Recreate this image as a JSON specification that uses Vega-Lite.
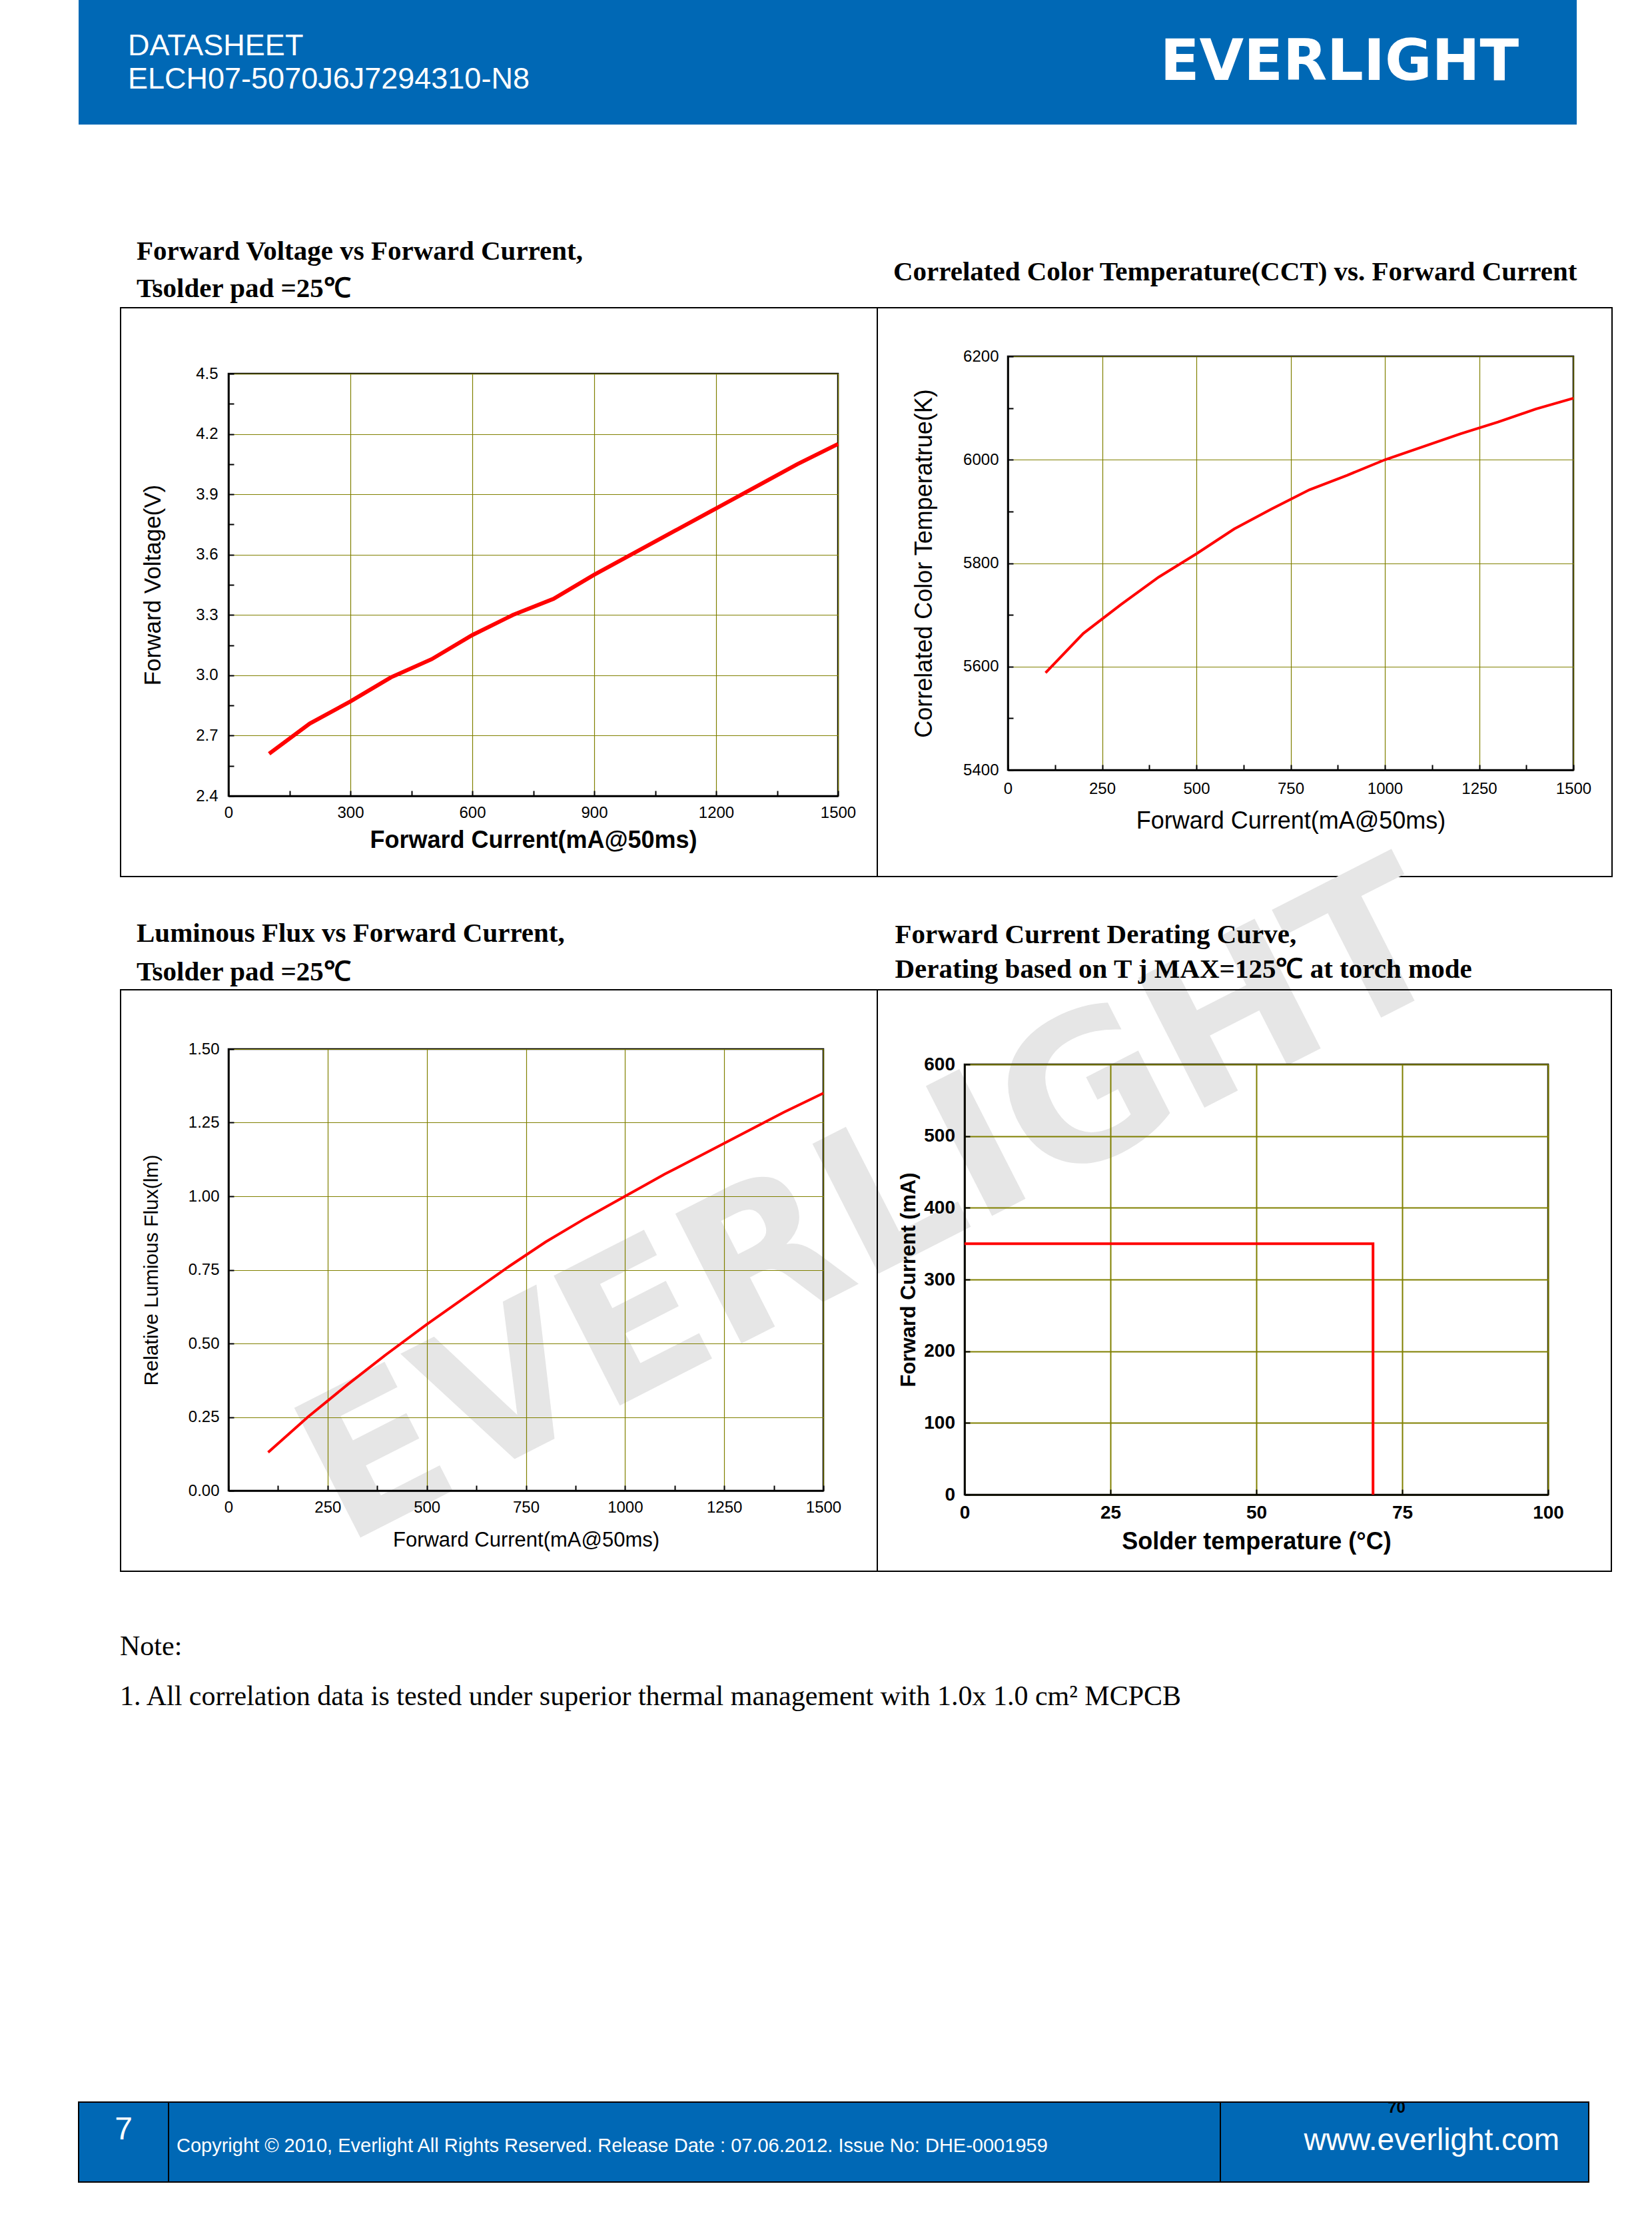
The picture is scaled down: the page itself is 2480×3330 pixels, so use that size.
{
  "$schema": "https://vega.github.io/schema/vega-lite/v6.json",
  "background": "white",
  "padding": {"left": 117, "top": 0, "right": 0, "bottom": 0},
  "config": {
    "view": {"stroke": null},
    "font": "Liberation Sans",
    "axis": {"domainColor": "black", "domainWidth": 2.5, "tickColor": "black", "tickWidth": 2, "tickSize": -8, "labelColor": "black", "titleColor": "black", "labelFont": "Liberation Sans", "titleFont": "Liberation Sans", "labelFlush": false, "labelOverlap": false, "gridColor": "#808000", "gridWidth": 1.2, "grid": true}
  },
  "spacing": 535,
  "bounds": "flush",
  "vconcat": [
    {
      "spacing": 0,
      "bounds": "flush",
      "hconcat": [
        {
          "width": 1537, "height": 187,
          "view": {"fill": "#0068b5", "stroke": null},
          "title": {"text": "DATASHEET", "subtitle": "ELCH07-5070J6J7294310-N8", "anchor": "start", "frame": "group", "orient": "top", "offset": -142, "dx": 74, "color": "white", "font": "Liberation Sans", "fontSize": 45, "fontWeight": "normal", "subtitleColor": "white", "subtitleFont": "Liberation Sans", "subtitleFontSize": 45, "subtitlePadding": 5},
          "data": {"values": []},
          "mark": "point"
        },
        {
          "width": 712, "height": 187,
          "view": {"fill": "#0068b5", "stroke": null},
          "data": {"values": [{"logo": "EVERLIGHT"}]},
          "mark": {"type": "text", "font": "DejaVu Sans", "fontWeight": "bold", "fontSize": 86, "color": "white", "align": "center", "baseline": "middle"},
          "encoding": {"text": {"field": "logo"}}
        }
      ]
    },
    {
      "spacing": 1040,
      "bounds": "flush",
      "vconcat": [
        {
          "spacing": 224,
          "bounds": "flush",
          "hconcat": [
            {"width": 1, "height": 1, "data": {"values": []}, "mark": "point"},
            {
              "spacing": 1170,
              "bounds": "flush",
              "hconcat": [
                {
                  "spacing": 25,
                  "bounds": "flush",
                  "vconcat": [
                    {"width": 1, "height": 1, "data": {"values": []}, "mark": "point"},
                    {
                      "width": 915, "height": 634,
                      "view": {"stroke": "black", "strokeWidth": 2.5},
                      "title": {"text": "Forward Voltage vs Forward Current,", "subtitle": "Tsolder pad =25℃", "anchor": "start", "frame": "group", "offset": 6, "dx": -138, "font": "Liberation Serif", "fontSize": 41, "fontWeight": "bold", "color": "black", "subtitleFont": "Liberation Serif", "subtitleFontSize": 41, "subtitleFontWeight": "bold", "subtitleColor": "black", "subtitlePadding": 15},
                      "layer": [
                        {"data": {"values": [{}]}, "mark": {"type": "rect", "x": -162, "x2": 974, "y": -99, "y2": 755, "fill": "transparent", "stroke": "black", "strokeWidth": 2}, "encoding": {}},
                        {
                          "data": {"values": [
                            {"current_mA": 100, "voltage_V": 2.61},
                            {"current_mA": 200, "voltage_V": 2.76},
                            {"current_mA": 300, "voltage_V": 2.87},
                            {"current_mA": 400, "voltage_V": 2.99},
                            {"current_mA": 500, "voltage_V": 3.08},
                            {"current_mA": 600, "voltage_V": 3.20},
                            {"current_mA": 700, "voltage_V": 3.30},
                            {"current_mA": 800, "voltage_V": 3.38},
                            {"current_mA": 900, "voltage_V": 3.50},
                            {"current_mA": 1000, "voltage_V": 3.61},
                            {"current_mA": 1100, "voltage_V": 3.72},
                            {"current_mA": 1200, "voltage_V": 3.83},
                            {"current_mA": 1300, "voltage_V": 3.94},
                            {"current_mA": 1400, "voltage_V": 4.05},
                            {"current_mA": 1500, "voltage_V": 4.15}
                          ]},
                          "mark": {"type": "line", "color": "#ff0000", "strokeWidth": 6},
                          "encoding": {
                            "x": {"field": "current_mA", "type": "quantitative", "scale": {"domain": [0, 1500], "nice": false},
                              "axis": {"title": "Forward Current(mA@50ms)", "values": [0, 150, 300, 450, 600, 750, 900, 1050, 1200, 1350, 1500], "labelExpr": "datum.value % 300 == 0 ? format(datum.value, 'd') : ''", "gridOpacity": {"condition": {"test": "datum.value % 300 == 0", "value": 1}, "value": 0}, "labelFontSize": 24, "labelPadding": 21, "titleFontSize": 36, "titleFontWeight": "bold", "titlePadding": 12}},
                            "y": {"field": "voltage_V", "type": "quantitative", "scale": {"domain": [2.4, 4.5], "nice": false, "zero": false},
                              "axis": {"title": "Forward Voltage(V)", "values": [2.4, 2.55, 2.7, 2.85, 3.0, 3.15, 3.3, 3.45, 3.6, 3.75, 3.9, 4.05, 4.2, 4.35, 4.5], "labelExpr": "round(datum.value*100) % 30 == 0 ? format(datum.value, '.1f') : ''", "gridOpacity": {"condition": {"test": "round(datum.value*100) % 30 == 0", "value": 1}, "value": 0}, "labelFontSize": 24, "labelPadding": 24, "titleFontSize": 35, "titleFontWeight": "normal", "titlePadding": 46}}
                          }
                        }
                      ]
                    }
                  ]
                },
                {
                  "width": 849, "height": 621,
                  "view": {"stroke": "black", "strokeWidth": 2.5},
                  "title": {"text": "Correlated Color Temperature(CCT) vs. Forward Current", "anchor": "start", "frame": "group", "offset": 31, "dx": -172, "font": "Liberation Serif", "fontSize": 41, "fontWeight": "bold", "color": "black"},
                  "layer": [
                    {"data": {"values": [{}]}, "mark": {"type": "rect", "x": -196, "x2": 907, "y": -73, "y2": 781, "fill": "transparent", "stroke": "black", "strokeWidth": 2}, "encoding": {}},
                    {
                      "data": {"values": [
                        {"current_mA": 100, "cct_K": 5588},
                        {"current_mA": 200, "cct_K": 5664},
                        {"current_mA": 300, "cct_K": 5720},
                        {"current_mA": 400, "cct_K": 5773},
                        {"current_mA": 500, "cct_K": 5818},
                        {"current_mA": 600, "cct_K": 5866},
                        {"current_mA": 700, "cct_K": 5905},
                        {"current_mA": 800, "cct_K": 5942},
                        {"current_mA": 900, "cct_K": 5970},
                        {"current_mA": 1000, "cct_K": 6000},
                        {"current_mA": 1100, "cct_K": 6025},
                        {"current_mA": 1200, "cct_K": 6050},
                        {"current_mA": 1300, "cct_K": 6073},
                        {"current_mA": 1400, "cct_K": 6098},
                        {"current_mA": 1500, "cct_K": 6119}
                      ]},
                      "mark": {"type": "line", "color": "#ff0000", "strokeWidth": 4},
                      "encoding": {
                        "x": {"field": "current_mA", "type": "quantitative", "scale": {"domain": [0, 1500], "nice": false},
                          "axis": {"title": "Forward Current(mA@50ms)", "values": [0, 125, 250, 375, 500, 625, 750, 875, 1000, 1125, 1250, 1375, 1500], "labelExpr": "datum.value % 250 == 0 ? format(datum.value, 'd') : ''", "gridOpacity": {"condition": {"test": "datum.value % 250 == 0", "value": 1}, "value": 0}, "labelFontSize": 24, "labelPadding": 24, "titleFontSize": 36, "titleFontWeight": "normal", "titlePadding": 19}},
                        "y": {"field": "cct_K", "type": "quantitative", "scale": {"domain": [5400, 6200], "nice": false, "zero": false},
                          "axis": {"title": "Correlated Color Temperatrue(K)", "values": [5400, 5500, 5600, 5700, 5800, 5900, 6000, 6100, 6200], "labelExpr": "datum.value % 200 == 0 ? format(datum.value, 'd') : ''", "gridOpacity": {"condition": {"test": "datum.value % 200 == 0", "value": 1}, "value": 0}, "labelFontSize": 24, "labelPadding": 22, "titleFontSize": 36, "titleFontWeight": "normal", "titlePadding": 39}}
                      }
                    }
                  ]
                }
              ]
            }
          ]
        },
        {
          "spacing": 872.5,
          "bounds": "flush",
          "vconcat": [
            {
              "spacing": 224,
              "bounds": "flush",
              "hconcat": [
                {
                  "width": 1, "height": 1,
                  "data": {"values": [{"watermark": "EVERLIGHT"}]},
                  "mark": {"type": "text", "font": "DejaVu Sans", "fontWeight": "bold", "fontSize": 300, "color": "#e6e6e6", "angle": -27, "align": "center", "baseline": "middle", "dx": 955, "dy": 755},
                  "encoding": {"text": {"field": "watermark"}}
                },
                {
                  "spacing": 212,
                  "bounds": "flush",
                  "hconcat": [
                    {
                      "width": 893, "height": 663,
                      "view": {"stroke": "black", "strokeWidth": 2.5},
                      "title": {"text": "Luminous Flux vs Forward Current,", "subtitle": "Tsolder pad =25℃", "anchor": "start", "frame": "group", "offset": 4.5, "dx": -138, "font": "Liberation Serif", "fontSize": 41, "fontWeight": "bold", "color": "black", "subtitleFont": "Liberation Serif", "subtitleFontSize": 41, "subtitleFontWeight": "bold", "subtitleColor": "black", "subtitlePadding": 17},
                      "layer": [
                        {"data": {"values": [{}]}, "mark": {"type": "rect", "x": -162, "x2": 974, "y": -89, "y2": 784, "fill": "transparent", "stroke": "black", "strokeWidth": 2}, "encoding": {}},
                        {
                          "data": {"values": [
                            {"current_mA": 100, "relative_flux": 0.13},
                            {"current_mA": 200, "relative_flux": 0.25},
                            {"current_mA": 300, "relative_flux": 0.36},
                            {"current_mA": 400, "relative_flux": 0.465},
                            {"current_mA": 500, "relative_flux": 0.565},
                            {"current_mA": 600, "relative_flux": 0.66},
                            {"current_mA": 700, "relative_flux": 0.755},
                            {"current_mA": 800, "relative_flux": 0.845},
                            {"current_mA": 900, "relative_flux": 0.925},
                            {"current_mA": 1000, "relative_flux": 1.0},
                            {"current_mA": 1100, "relative_flux": 1.075},
                            {"current_mA": 1200, "relative_flux": 1.145},
                            {"current_mA": 1300, "relative_flux": 1.215},
                            {"current_mA": 1400, "relative_flux": 1.285},
                            {"current_mA": 1500, "relative_flux": 1.35}
                          ]},
                          "mark": {"type": "line", "color": "#ff0000", "strokeWidth": 4},
                          "encoding": {
                            "x": {"field": "current_mA", "type": "quantitative", "scale": {"domain": [0, 1500], "nice": false},
                              "axis": {"title": "Forward Current(mA@50ms)", "values": [0, 125, 250, 375, 500, 625, 750, 875, 1000, 1125, 1250, 1375, 1500], "labelExpr": "datum.value % 250 == 0 ? format(datum.value, 'd') : ''", "gridOpacity": {"condition": {"test": "datum.value % 250 == 0", "value": 1}, "value": 0}, "labelFontSize": 24, "labelPadding": 21, "titleFontSize": 31, "titleFontWeight": "normal", "titlePadding": 22}},
                            "y": {"field": "relative_flux", "type": "quantitative", "scale": {"domain": [0, 1.5], "nice": false},
                              "axis": {"title": "Relative Lumious Flux(lm)", "values": [0, 0.25, 0.5, 0.75, 1.0, 1.25, 1.5], "format": ".2f", "labelFontSize": 24, "labelPadding": 22, "titleFontSize": 30, "titleFontWeight": "normal", "titlePadding": 40}}
                          }
                        }
                      ]
                    },
                    {
                      "spacing": 22,
                      "bounds": "flush",
                      "vconcat": [
                        {"width": 1, "height": 1, "data": {"values": []}, "mark": "point"},
                        {
                          "width": 876, "height": 646,
                          "view": {"stroke": "black", "strokeWidth": 2.5},
                          "title": {"text": "Forward Current Derating Curve,", "subtitle": "Derating based on T j MAX=125℃  at torch mode", "anchor": "start", "frame": "group", "offset": 8.5, "dx": -104.5, "font": "Liberation Serif", "fontSize": 41, "fontWeight": "bold", "color": "black", "subtitleFont": "Liberation Serif", "subtitleFontSize": 41, "subtitleFontWeight": "bold", "subtitleColor": "black", "subtitlePadding": 11},
                          "layer": [
                            {"data": {"values": [{}]}, "mark": {"type": "rect", "x": -131, "x2": 971, "y": -112, "y2": 761, "fill": "transparent", "stroke": "black", "strokeWidth": 2}, "encoding": {}},
                            {
                              "data": {"values": [
                                {"solder_temp_C": 0, "max_current_mA": 350},
                                {"solder_temp_C": 70, "max_current_mA": 350},
                                {"solder_temp_C": 70, "max_current_mA": 0}
                              ]},
                              "mark": {"type": "line", "color": "#ff0000", "strokeWidth": 4},
                              "encoding": {
                                "order": {"value": null},
                                "x": {"field": "solder_temp_C", "type": "quantitative", "scale": {"domain": [0, 100], "nice": false},
                                  "axis": {"title": "Solder temperature (°C)", "values": [0, 25, 50, 75, 100], "format": "d", "gridWidth": 2, "labelFontSize": 28, "labelFontWeight": "bold", "labelPadding": 21, "titleFontSize": 36, "titleFontWeight": "bold", "titlePadding": 12}},
                                "y": {"field": "max_current_mA", "type": "quantitative", "scale": {"domain": [0, 600], "nice": false},
                                  "axis": {"title": "Forward Current (mA)", "values": [0, 100, 200, 300, 400, 500, 600], "format": "d", "gridWidth": 2, "labelFontSize": 28, "labelFontWeight": "bold", "labelPadding": 22.5, "titleFontSize": 31, "titleFontWeight": "bold", "titlePadding": 6}}
                              }
                            }
                          ]
                        }
                      ]
                    }
                  ]
                }
              ]
            },
            {
              "spacing": 558.5,
              "bounds": "flush",
              "vconcat": [
                {
                  "width": 124, "height": 150,
                  "data": {"values": [
                    {"line": "Note:"},
                    {"line": "1. All correlation data is tested under superior thermal management with 1.0x 1.0 cm² MCPCB"}
                  ]},
                  "mark": {"type": "text", "align": "left", "baseline": "alphabetic", "font": "Liberation Serif", "fontSize": 42, "color": "black"},
                  "encoding": {"y": {"field": "line", "type": "nominal", "sort": null, "axis": null}, "text": {"field": "line"}}
                },
                {
                  "spacing": 0,
                  "bounds": "flush",
                  "hconcat": [
                    {
                      "width": 135, "height": 120,
                      "view": {"fill": "#0068b5", "stroke": "black", "strokeWidth": 2},
                      "data": {"values": [{"page": "7"}]},
                      "mark": {"type": "text", "color": "white", "fontSize": 48, "font": "Liberation Sans", "align": "center", "baseline": "middle", "dy": -18},
                      "encoding": {"text": {"field": "page"}}
                    },
                    {
                      "width": 1579, "height": 120,
                      "view": {"fill": "#0068b5", "stroke": "black", "strokeWidth": 2},
                      "title": {"text": "Copyright © 2010, Everlight All Rights Reserved. Release Date : 07.06.2012. Issue No: DHE-0001959", "anchor": "start", "frame": "group", "offset": -81, "dx": 12, "color": "white", "font": "Liberation Sans", "fontSize": 29, "fontWeight": "normal"},
                      "data": {"values": []},
                      "mark": "point"
                    },
                    {
                      "width": 553, "height": 120,
                      "view": {"fill": "#0068b5", "stroke": "black", "strokeWidth": 2},
                      "title": {"text": "www.everlight.com", "anchor": "end", "frame": "group", "offset": -85, "dx": -44, "color": "white", "font": "Liberation Sans", "fontSize": 46, "fontWeight": "normal"},
                      "data": {"values": [{"n": "70"}]},
                      "mark": {"type": "text", "color": "black", "fontWeight": "bold", "fontSize": 24, "align": "center", "baseline": "middle", "dx": -12, "dy": -51},
                      "encoding": {"text": {"field": "n"}}
                    }
                  ]
                }
              ]
            }
          ]
        }
      ]
    }
  ]
}
